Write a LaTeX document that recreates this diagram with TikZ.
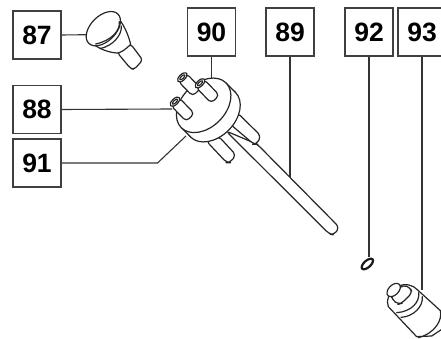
\documentclass[tikz,border=0pt]{standalone}
\usepackage{fontspec}
\setmainfont{Liberation Sans}
\tikzset{
  numbox/.style={draw=black!75,line width=1.1pt,fill=white,minimum width=48pt,minimum height=48pt,inner sep=0pt,font=\fontsize{26.5}{26.5}\selectfont\bfseries,text=black},
  leader/.style={draw=black!80,line width=1.1pt},
  part/.style={draw=black!85,line width=1.2pt,fill=white,line join=round},
  partline/.style={draw=black!85,line width=1.2pt,line cap=round,line join=round},
  zoomed/.style={x=0.33333pt,y=-0.33333pt}
}
\newcommand{\tubepart}[3]{%
  \begin{scope}[shift={(#1,#2)},rotate=-46]
    \path[part,rounded corners=4pt] (0,-17) -- (#3,-17) -- (#3,17) -- (0,17) -- cycle;
    \path[part] (0,0) ellipse [x radius=9,y radius=18];
    \path[part] (0,0) ellipse [x radius=4,y radius=10];
  \end{scope}}
\begin{document}
\begin{tikzpicture}[x=1pt,y=-1pt]
\useasboundingbox (0,0) rectangle (441,339);
\begin{scope}
\clip (0,0) rectangle (441,339);
% boxes
\node[numbox] (n87) at (37,35) {87};
\node[numbox] (n88) at (37,109.5) {88};
\node[numbox] (n91) at (37,163) {91};
\node[numbox] (n90) at (211.5,32) {90};
\node[numbox] (n89) at (290,32) {89};
\node[numbox] (n92) at (369,32) {92};
\node[numbox] (n93) at (422,32) {93};
% free leader ends
\coordinate (e87) at (86.5,34.7);
\coordinate (e88) at (172,109);
\coordinate (k91) at (157.5,163);
\coordinate (e91) at (186,136);
\coordinate (e90) at (211.5,80);
\coordinate (e89) at (290,177);
\coordinate (e92) at (369,257);
\coordinate (e93) at (422,290);
\draw[leader] (n87.east) -- (e87);
\draw[leader] (n88.east) -- (e88);
\draw[leader] (n91.east) -- (k91) -- (e91);
\draw[leader] (n90.south) -- (e90);
\draw[leader] (n89.south) -- (e89);
\draw[leader] (n92.south) -- (e92);
\draw[leader] (n93.south) -- (e93);
% part 87
\begin{scope}[shift={(0,0)},zoomed]
  \path[part,rounded corners=3pt] (352,158) -- (392,206) -- (403,208) -- (428,180) -- (392,132) -- cycle;
  \path[part] (345,44) .. controls (372,70) and (385,105) .. (392,133) .. controls (375,150) and (362,158) .. (352,159) .. controls (330,158) and (300,150) .. (270,125) -- cycle;
  \path[part] (310,86) ellipse [x radius=62,y radius=38,rotate=45];
  \draw[partline] (358,65) .. controls (362,90) and (335,122) .. (287,132);
  \draw[partline] (364,78) .. controls (366,105) and (340,137) .. (300,146);
\end{scope}
% rods and head of 89, 90, 91
\begin{scope}[shift={(150,0)},zoomed]
  \path[part,rounded corners=4pt] (228,393) -- (538,702) -- (552,705) -- (568,682) -- (322,433) -- cycle;
  \path[part,rounded corners=4pt] (262,338) -- (333,408) -- (320,433) -- (312,433) -- (240,372) -- cycle;
  \path[part,rounded corners=4pt] (205,408) -- (258,465) -- (240,488) -- (230,488) -- (168,422) -- cycle;
  % disc
  \path[part] (189,344) ellipse [x radius=95,y radius=66,rotate=45];
  \path[fill=white] (228,249) -- (256,277) -- (122,411) -- (94,383) -- cycle;
  \draw[partline] (228,249) -- (256,277);
  \draw[partline] (94,383) -- (122,411);
  \path[part] (161,316) ellipse [x radius=95,y radius=66,rotate=45];
  % tubes
  \tubepart{97}{232}{62}
  \tubepart{150}{250}{66}
  \tubepart{75}{305}{66}
\end{scope}
% part 92
\begin{scope}[shift={(340,0)},zoomed]
  \path[draw=black!90,line width=2.2pt] (82,792) ellipse [x radius=21,y radius=10,rotate=42];
\end{scope}
% part 93
\begin{scope}[shift={(375,270)},zoomed]
  \path[part] (128,60) -- (205,130) -- (205,175) -- (170,198) -- (125,200) -- (40,110) .. controls (32,90) and (40,70) .. (68,50) .. controls (90,38) and (115,45) .. (128,60);
  \draw[partline] (131,68) .. controls (135,95) and (110,125) .. (65,128);
  \draw[partline] (142,80) .. controls (145,110) and (115,140) .. (78,142);
  \draw[partline] (196,122) .. controls (203,150) and (180,190) .. (130,203);
  \path[part,rounded corners=4pt] (48,72) -- (52,90) -- (70,103) -- (80,100) -- (112,68) -- (105,52) -- (85,45) -- cycle;
  \path[part] (56,60) ellipse [x radius=24,y radius=15,rotate=45];
\end{scope}
\end{scope}
\end{tikzpicture}
\end{document}
